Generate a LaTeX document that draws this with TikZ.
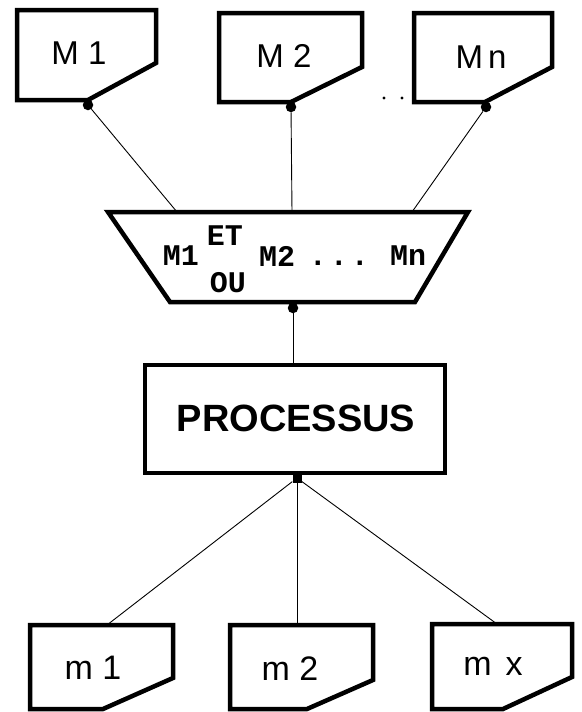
\documentclass[tikz,border=0pt]{standalone}
\usepackage{fontspec}
\setmainfont{Liberation Sans}
\newfontfamily\monob{Liberation Mono}
\begin{document}
\begin{tikzpicture}[x=1pt,y=-1pt,
  boxline/.style={line width=4.5pt, line join=miter},
  conn/.style={line width=0.9pt},
  dotn/.style={circle, fill=black, inner sep=0pt, minimum size=10.5pt},
  smalldot/.style={circle, fill=black, inner sep=0pt, minimum size=3.2pt},
  plot/.style={font=\fontsize{33}{33}\selectfont},
  smallm/.style={font=\fontsize{34}{34}\selectfont},
  trap/.style={font=\monob\bfseries\fontsize{30}{30}\selectfont, inner sep=0pt},
  proc/.style={font=\bfseries\fontsize{38}{38}\selectfont}]
\useasboundingbox (0,0) rectangle (581,712);
\fill[white] (0,0) rectangle (581,712);
% top boxes
\draw[boxline] (17,10) -- (156,10) -- (156,63) -- (88,100) -- (17,100) -- cycle;
\draw[boxline] (219,13) -- (362,13) -- (362,67) -- (291,102) -- (219,102) -- cycle;
\draw[boxline] (414,13) -- (552,13) -- (552,67) -- (485,102) -- (414,102) -- cycle;
\node[plot] (lM1) at (79,53) {M 1};
\node[plot] (lM2) at (284,56) {M 2};
\node[plot] (lMn) at (481,57) {M\hspace{5pt}n};
\node[smalldot] (sd1) at (384,98) {};
\node[smalldot] (sd2) at (402,98) {};
\node[dotn] (d1) at (88,105) {};
\node[dotn] (d2) at (291,107) {};
\node[dotn] (dn) at (486,107) {};
% trapezoid
\draw[boxline] (108,212) -- (468,212) -- (415,302) -- (170,302) -- cycle;
\coordinate (t1) at (177,212);
\coordinate (t2) at (292,212);
\coordinate (tn) at (412,212);
\node[trap] (tM1) at (181,256) {M1};
\node[trap] (tET) at (225,236) {ET};
\node[trap] (tOU) at (228,283) {OU};
\node[trap] (tM2) at (277,256) {M2};
\node[trap, anchor=base] (tdots) at (339,265) {.\hspace{3pt}.\hspace{3pt}.};
\node[trap] (tMn) at (408,256) {Mn};
\node[dotn] (dt) at (293,308) {};
\draw[conn] (d1) -- (t1);
\draw[conn] (d2) -- (t2);
\draw[conn] (dn) -- (tn);
% processus
\draw[boxline] (145,365) rectangle (445,473);
\coordinate (ptop) at (293,365);
\node[proc] (lproc) at (296,418) {PROCESSUS};
\draw[conn] (dt) -- (ptop);
\node[dotn, rectangle, minimum size=9pt] (dp) at (297,478) {};
% bottom boxes
\draw[boxline] (30,625) -- (173,625) -- (173,678) -- (103,709) -- (30,709) -- cycle;
\draw[boxline] (230,625) -- (373,625) -- (373,680) -- (307,709) -- (230,709) -- cycle;
\draw[boxline] (432,624) -- (572,624) -- (572,677) -- (503,709) -- (432,709) -- cycle;
\node[smallm] (lm1) at (93,668) {m 1};
\node[smallm] (lm2) at (290,669) {m 2};
\node[smallm] (lmx) at (493,666) {m\hspace{14pt}x};
\coordinate (b1) at (107,625);
\coordinate (b2) at (297,625);
\coordinate (bx) at (497,624);
\draw[conn] (dp) -- (b1);
\draw[conn] (dp) -- (b2);
\draw[conn] (dp) -- (bx);
\end{tikzpicture}
\end{document}
